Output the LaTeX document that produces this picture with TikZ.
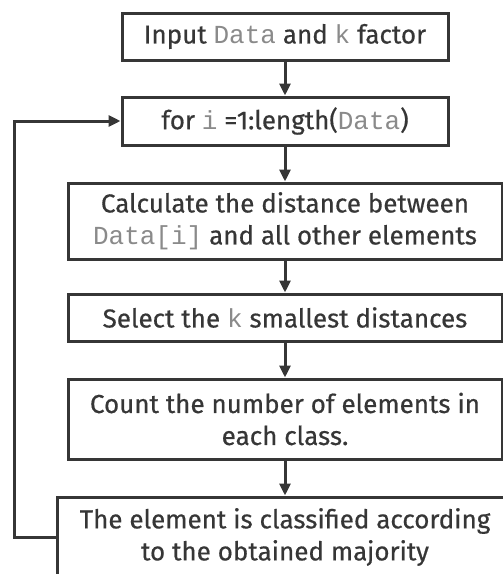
\documentclass[tikz,border=0pt]{standalone}
\usepackage{fontspec}
\setmainfont{Fira Sans}[FakeBold=0.5]
\setmonofont{Liberation Mono}
\usetikzlibrary{arrows.meta}
\definecolor{ink}{HTML}{363636}
\definecolor{codegray}{HTML}{8A8A8A}
\newcommand{\code}[1]{{\ttfamily\color{codegray}#1}}
\tikzset{
  stepbox/.style={draw=ink, line width=3pt, fill=white, text=ink,
    inner sep=0pt, align=center, font=\fontsize{26}{32}\selectfont},
  flow/.style={draw=ink, line width=3pt,
    -{Triangle[length=12pt,width=11pt]}},
}
\begin{document}
\begin{tikzpicture}[x=1pt,y=-1pt]
  \clip (0,0) rectangle (503,574);
  \fill[white] (0,0) rectangle (503,574);

  \node[stepbox, minimum width=326pt, minimum height=47pt] (input) at (285,36.5)
    {Input \code{Data} and \code{k} factor};
  \node[stepbox, minimum width=326pt, minimum height=48pt] (loop) at (285,121)
    {for \code{i} =1:length(\code{Data})};
  \node[stepbox, minimum width=434pt, minimum height=76pt] (dist) at (285,221)
    {Calculate the distance between\\\code{Data[i]} and all other elements};
  \node[stepbox, minimum width=434pt, minimum height=47pt] (select) at (285,317.5)
    {Select the \code{k} smallest distances};
  \node[stepbox, minimum width=434pt, minimum height=80pt] (count) at (285,419)
    {Count the number of elements in\\each class.};
  \node[stepbox, minimum width=456pt, minimum height=80pt] (classify) at (285,537)
    {The element is classified according\\to the obtained majority};

  \coordinate (back) at (14,0);

  \draw[flow] (input) -- (loop);
  \draw[flow] (loop) -- (dist);
  \draw[flow] (dist) -- (select);
  \draw[flow] (select) -- (count);
  \draw[flow] (count) -- (classify);
  \draw[flow] (classify.west) -- (classify.west -| back)
    -- (loop.west -| back) -- (loop.west);
\end{tikzpicture}
\end{document}
